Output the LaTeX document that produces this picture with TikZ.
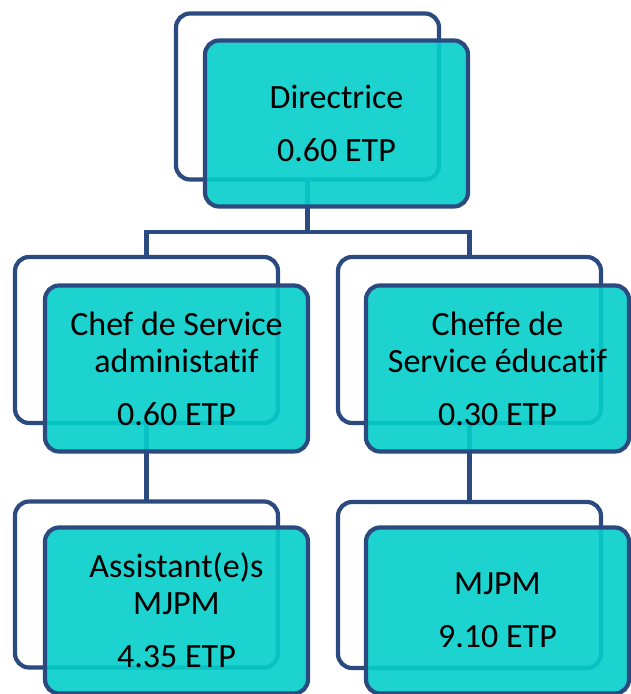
\documentclass[tikz,border=0pt]{standalone}
\usepackage{fontspec}
\setmainfont{Carlito}[Ligatures=NoCommon]
\definecolor{navy}{HTML}{2B4A80}
\definecolor{teal}{RGB}{4,206,202}
\begin{document}
\begin{tikzpicture}[x=1pt,y=-1pt,
  boxbase/.style={rectangle, rounded corners=14pt, line width=4.2pt, draw=navy,
    minimum width=263pt, minimum height=166pt, inner sep=0pt, outer sep=0pt},
  backbox/.style={boxbase},
  frontbox/.style={boxbase, fill=teal, fill opacity=0.9, text opacity=1,
    align=center, font=\fontsize{34}{37}\selectfont},
  link/.style={draw=navy, line width=4.2pt}]
\useasboundingbox (0,0) rectangle (630,694);

% outlined boxes behind
\node[backbox] (bT)  at (307.5, 96.5) {};
\node[backbox] (bL)  at (146.5, 340) {};
\node[backbox] (bR)  at (469.5, 340) {};
\node[backbox] (bLL) at (146.5, 584.5) {};
\node[backbox] (bRR) at (469.5, 585) {};

% connectors
\coordinate (j) at (307.5, 232);
\draw[link] (bT.south) -- (j);
\draw[link] (bL.north) |- (j) -| (bR.north);
\draw[link] (bL.south) -- (bLL.north);
\draw[link] (bR.south) -- (bRR.north);

% filled boxes in front
\node[frontbox] (fT)  at (336.5, 123.5) {Directrice\\[16pt]0.60 ETP};
\node[frontbox] (fL)  at (176.5, 368.5) {Chef de Service\\administatif\\[16pt]0.60 ETP};
\node[frontbox] (fR)  at (497.5, 368.5) {Cheffe de\\Service éducatif\\[16pt]0.30 ETP};
\node[frontbox] (fLL) at (176.5, 610.5) {Assistant(e)s\\MJPM\\[16pt]4.35 ETP};
\node[frontbox] (fRR) at (497.5, 610.5) {MJPM\\[16pt]9.10 ETP};
\end{tikzpicture}
\end{document}
